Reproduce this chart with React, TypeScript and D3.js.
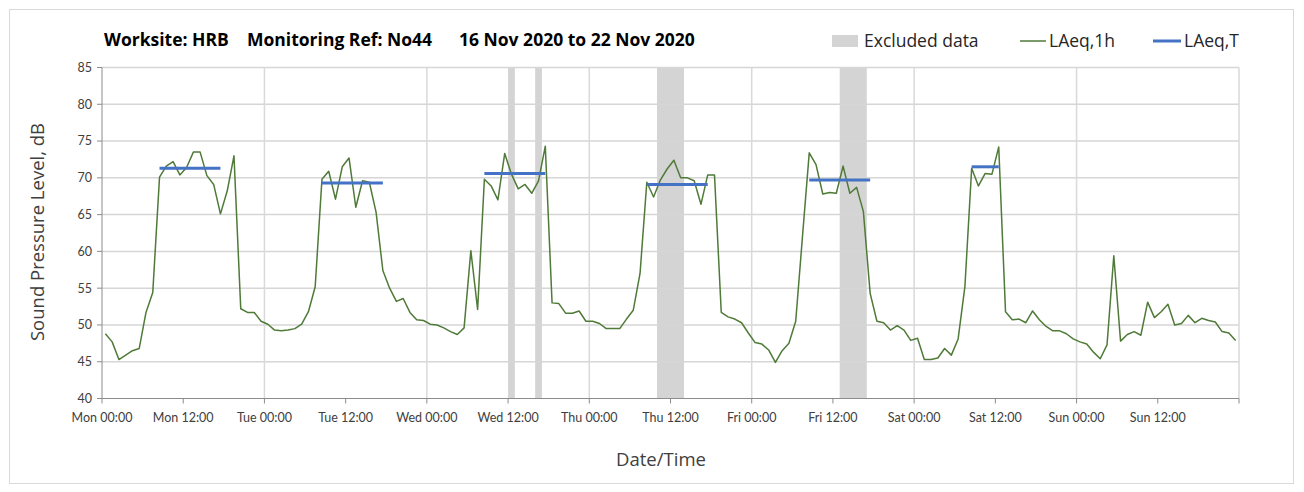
import React from "react";
import * as d3 from "d3";

const laeq1h: number[] = [
  48.8, 47.7, 45.3, 45.9, 46.5, 46.8, 51.7, 54.4, 70.1, 71.6, 72.2, 70.4, 71.4, 73.5, 73.5, 70.3, 69.1, 65.1, 68.2, 73.0,
  52.2, 51.7, 51.7, 50.5, 50.1, 49.3, 49.2, 49.3, 49.5, 50.1, 51.8, 55.2, 69.8, 70.9, 67.1, 71.5, 72.7, 66.0, 69.6, 69.4,
  65.3, 57.4, 55.0, 53.2, 53.6, 51.7, 50.7, 50.6, 50.1, 50.0, 49.6, 49.1, 48.7, 49.6, 60.1, 52.1, 69.8, 68.9, 67.0, 73.3,
  70.5, 68.5, 69.1, 67.9, 69.6, 74.3, 53.0, 52.9, 51.6, 51.6, 51.9, 50.5, 50.5, 50.2, 49.5, 49.5, 49.5, 50.8, 52.0, 57.0,
  69.4, 67.4, 69.7, 71.2, 72.4, 70.0, 70.0, 69.6, 66.4, 70.4, 70.4, 51.7, 51.1, 50.8, 50.3, 48.9, 47.6, 47.4, 46.6, 44.9,
  46.5, 47.5, 50.5, 62.0, 73.4, 71.8, 67.8, 68.0, 67.9, 71.6, 67.9, 68.7, 65.4, 54.3, 50.5, 50.3, 49.3, 49.9, 49.3, 47.9,
  48.2, 45.3, 45.3, 45.5, 46.8, 45.9, 48.1, 55.2, 71.3, 68.9, 70.6, 70.5, 74.2, 51.8, 50.7, 50.8, 50.3, 51.9, 50.7, 49.8,
  49.2, 49.2, 48.8, 48.1, 47.7, 47.4, 46.3, 45.4, 47.3, 59.4, 47.8, 48.7, 49.1, 48.6, 53.1, 51.0, 51.8, 52.8, 50.0, 50.2,
  51.3, 50.3, 50.9, 50.6, 50.4, 49.1, 48.9, 47.9,
];

// LAeq,T periods: [first hour index, last hour index, level]
const laeqTStart: number[] = [8, 32, 56, 80, 104, 128];
const laeqTEnd: number[] = [17, 41, 65, 89, 113, 132];
const laeqTValue: number[] = [71.3, 69.3, 70.6, 69.1, 69.7, 71.5];

// Excluded data periods (hours from Mon 00:00)
const excludedStart: number[] = [60, 64, 82, 109];
const excludedEnd: number[] = [61, 65, 86, 113];

const xTickLabels: string[] = [
  "Mon 00:00", "Mon 12:00", "Tue 00:00", "Tue 12:00", "Wed 00:00", "Wed 12:00", "Thu 00:00",
  "Thu 12:00", "Fri 00:00", "Fri 12:00", "Sat 00:00", "Sat 12:00", "Sun 00:00", "Sun 12:00",
];
const yTicks: number[] = [40, 45, 50, 55, 60, 65, 70, 75, 80, 85];

const FONT = "Lato, 'Open Sans', sans-serif";
const FONT2 = "'Open Sans', Lato, sans-serif";

export default function App() {
  const W = 1304, H = 492;
  const x = d3.scaleLinear().domain([0, 168]).range([102, 1239]);
  const y = d3.scaleLinear().domain([40, 85]).range([398.5, 67.5]);

  const line = d3
    .line<number>()
    .x((_, i) => x(i + 0.5))
    .y((d) => y(d));

  const xTickHours = d3.range(0, 169, 12);
  const vGrid = d3.range(24, 169, 24);

  return (
    <svg width={W} height={H} style={{ position: "absolute", left: 0, top: 0 }}>
      <rect x={0} y={0} width={W} height={H} fill="#fff" />
      <rect x={9.5} y={9.5} width={1284} height={474} fill="none" stroke="#d9d9d9" strokeWidth={1} />

      {/* excluded bands */}
      {excludedStart.map((s, i) => (
        <rect key={"ex" + i} x={x(s)} y={y(85)} width={x(excludedEnd[i]) - x(s)} height={y(40) - y(85)} fill="#d4d4d4" />
      ))}

      {/* horizontal grid */}
      {yTicks.filter((t) => t > 40).map((t) => (
        <line key={"hg" + t} x1={x(0)} x2={x(168)} y1={y(t)} y2={y(t)} stroke="#d6d6d6" strokeWidth={1.5} />
      ))}
      {/* vertical grid */}
      {vGrid.map((h) => (
        <line key={"vg" + h} x1={x(h)} x2={x(h)} y1={y(85)} y2={y(40)} stroke="#d9d9d9" strokeWidth={1.5} />
      ))}

      {/* axes */}
      <line x1={x(0)} x2={x(0)} y1={y(85)} y2={y(40)} stroke="#8c8c8c" strokeWidth={1} />
      <line x1={x(0)} x2={x(168)} y1={y(40)} y2={y(40)} stroke="#8c8c8c" strokeWidth={1} />
      {yTicks.map((t) => (
        <g key={"yt" + t}>
          <line x1={x(0) - 5} x2={x(0)} y1={y(t)} y2={y(t)} stroke="#8c8c8c" />
          <text x={x(0) - 10} y={y(t)} dy="0.35em" textAnchor="end" fontFamily={FONT} fontSize={12.5} fill="#404040">
            {t}
          </text>
        </g>
      ))}
      {xTickHours.map((h) => (
        <line key={"xt" + h} x1={x(h)} x2={x(h)} y1={y(40)} y2={y(40) + 5} stroke="#8c8c8c" />
      ))}
      {xTickLabels.map((lab, i) => (
        <text key={"xl" + i} x={x(i * 12)} y={422} textAnchor="middle" fontFamily={FONT} fontSize={12.5} fill="#404040">
          {lab}
        </text>
      ))}

      {/* LAeq,1h */}
      <path d={line(laeq1h) || ""} fill="none" stroke="#4f7a38" strokeWidth={1.5} strokeLinejoin="round" />

      {/* LAeq,T */}
      {laeqTStart.map((s, i) => (
        <line key={"lt" + i} x1={x(s + 0.5)} x2={x(laeqTEnd[i] + 0.5)} y1={y(laeqTValue[i])} y2={y(laeqTValue[i])} stroke="#4472c4" strokeWidth={3} />
      ))}

      {/* titles */}
      <text x={104} y={46} fontFamily={FONT2} fontSize={17.5} fontWeight="bold" fill="#000">Worksite: HRB</text>
      <text x={247} y={46} fontFamily={FONT2} fontSize={17.5} fontWeight="bold" fill="#000">Monitoring Ref: No44</text>
      <text x={459} y={46} fontFamily={FONT2} fontSize={17.5} fontWeight="bold" fill="#000">16 Nov 2020 to 22 Nov 2020</text>

      {/* legend */}
      <rect x={832} y={35} width={26} height={12} fill="#d4d4d4" />
      <text x={864} y={47} fontFamily={FONT2} fontSize={17.5} fill="#262626">Excluded data</text>
      <line x1={1020} x2={1046} y1={41} y2={41} stroke="#4f7a38" strokeWidth={1.5} />
      <text x={1049} y={47} fontFamily={FONT2} fontSize={17.5} fill="#262626">LAeq,1h</text>
      <line x1={1153} x2={1181} y1={41} y2={41} stroke="#4472c4" strokeWidth={3} />
      <text x={1184} y={47} fontFamily={FONT2} fontSize={17.5} fill="#262626">LAeq,T</text>

      {/* axis titles */}
      <text transform="translate(44,232) rotate(-90)" textAnchor="middle" fontFamily={FONT2} fontSize={18.5} fill="#404040">
        Sound Pressure Level, dB
      </text>
      <text x={661} y={466} textAnchor="middle" fontFamily={FONT2} fontSize={18.5} fill="#404040">Date/Time</text>
    </svg>
  );
}
